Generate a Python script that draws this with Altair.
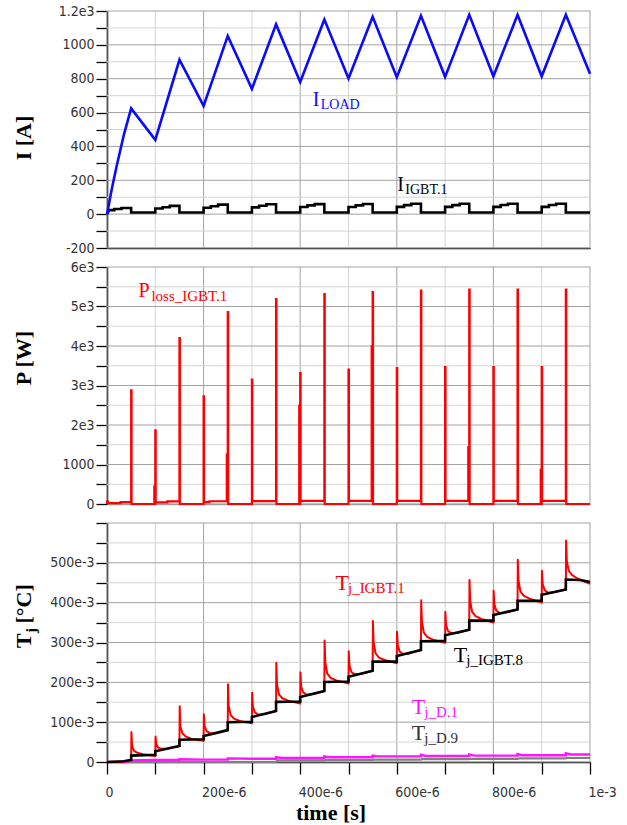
import altair as alt
import pandas as pd

# ---------------- data (time in microseconds) ----------------
load_t = [0, 10, 20, 35, 50, 100, 150, 200, 250, 300, 350, 400, 450, 500, 550, 600,
          650, 700, 750, 800, 850, 900, 950, 1000]
load_i = [0, 150, 285, 470, 625, 439, 912, 639, 1053, 740, 1121, 781, 1150, 801, 1166, 809,
          1172, 811, 1178, 814, 1178, 814, 1178, 830]

igbt_pts = [(0, 0), (5, 24), (15, 24), (15, 30), (30, 30), (30, 36), (50, 36), (50, 10),
            (100, 10), (100, 33), (115, 33), (115, 41), (130, 41), (130, 49), (150, 49), (150, 10),
            (200, 10), (200, 38), (215, 38), (215, 47), (230, 47), (230, 56), (250, 56), (250, 10),
            (300, 10), (300, 40), (315, 40), (315, 50), (330, 50), (330, 58), (350, 58), (350, 10),
            (400, 10), (400, 42), (415, 42), (415, 52), (430, 52), (430, 59), (450, 59), (450, 10),
            (500, 10), (500, 42), (515, 42), (515, 52), (530, 52), (530, 60), (550, 60), (550, 10),
            (600, 10), (600, 43), (615, 43), (615, 53), (630, 53), (630, 61), (650, 61), (650, 10),
            (700, 10), (700, 43), (715, 43), (715, 53), (730, 53), (730, 61), (750, 61), (750, 10),
            (800, 10), (800, 43), (815, 43), (815, 54), (830, 54), (830, 61), (850, 61), (850, 10),
            (900, 10), (900, 43), (915, 43), (915, 54), (930, 54), (930, 61), (950, 61), (950, 10),
            (1000, 10)]

ploss_pts = [(0, 0), (0, 60), (2, 60), (2, 20), (28, 20), (28, 45), (50, 45), (50, 2878), (50.8, 2878), (50.8, 0),
             (98, 0), (98, 447), (99, 447), (99, 0), (100, 0), (100, 1865), (100.8, 1865), (100.8, 40),
             (125, 40), (125, 65), (150, 65), (150, 4203), (150.8, 4203), (150.8, 0),
             (200, 0), (200, 2726), (200.8, 2726), (200.8, 45), (212, 45), (212, 70),
             (248, 70), (248, 1249), (249, 1249), (249, 70), (250, 70), (250, 4861), (250.8, 4861), (250.8, 0),
             (300, 0), (300, 3148), (300.8, 3148), (300.8, 75), (350, 75), (350, 5190), (350.8, 5190), (350.8, 0),
             (398, 0), (398, 2489), (399, 2489), (399, 0), (400, 0), (400, 3316), (400.8, 3316), (400.8, 78),
             (450, 78), (450, 5316), (450.8, 5316), (450.8, 0),
             (500, 0), (500, 3401), (500.8, 3401), (500.8, 80), (548, 80), (548, 3992), (549, 3992), (549, 80),
             (550, 80), (550, 5367), (550.8, 5367), (550.8, 0),
             (600, 0), (600, 3443), (600.8, 3443), (600.8, 80), (650, 80), (650, 5400), (650.8, 5400), (650.8, 0),
             (700, 0), (700, 3468), (700.8, 3468), (700.8, 80), (748, 80), (748, 1435), (749, 1435), (749, 80),
             (750, 80), (750, 5426), (750.8, 5426), (750.8, 0),
             (800, 0), (800, 3468), (800.8, 3468), (800.8, 80), (850, 80), (850, 5426), (850.8, 5426), (850.8, 0),
             (898, 0), (898, 869), (899, 869), (899, 0), (900, 0), (900, 3468), (900.8, 3468), (900.8, 80),
             (950, 80), (950, 5426), (950.8, 5426), (950.8, 0), (1000, 0)]

tj_igbt1_pts = [
    (0, 0), (25, 0), (40, 0.003), (50, 0.005),
    (50.5, 0.075), (52, 0.040), (56, 0.028), (63, 0.023), (75, 0.019), (100, 0.015),
    (100.5, 0.064), (102, 0.045), (106, 0.036), (113, 0.033), (125, 0.034), (150, 0.040),
    (150.5, 0.140), (152, 0.090), (156, 0.072), (163, 0.064), (175, 0.058), (200, 0.053),
    (200.5, 0.120), (202, 0.090), (206, 0.078), (213, 0.072), (225, 0.072), (250, 0.080),
    (250.5, 0.195), (252, 0.140), (256, 0.118), (263, 0.109), (275, 0.103), (300, 0.097),
    (300.5, 0.174), (302, 0.140), (306, 0.125), (313, 0.119), (325, 0.120), (350, 0.128),
    (350.5, 0.249), (352, 0.195), (356, 0.170), (363, 0.160), (375, 0.154), (400, 0.147),
    (400.5, 0.225), (402, 0.190), (406, 0.175), (413, 0.169), (425, 0.170), (450, 0.178),
    (450.5, 0.305), (452, 0.250), (456, 0.222), (463, 0.211), (475, 0.205), (500, 0.197),
    (500.5, 0.278), (502, 0.242), (506, 0.226), (513, 0.220), (525, 0.221), (550, 0.229),
    (550.5, 0.354), (552, 0.300), (556, 0.273), (563, 0.262), (575, 0.256), (600, 0.248),
    (600.5, 0.327), (602, 0.293), (606, 0.277), (613, 0.271), (625, 0.272), (650, 0.281),
    (650.5, 0.406), (652, 0.352), (656, 0.325), (663, 0.314), (675, 0.307), (700, 0.299),
    (700.5, 0.377), (702, 0.344), (706, 0.329), (713, 0.323), (725, 0.324), (750, 0.332),
    (750.5, 0.457), (752, 0.404), (756, 0.377), (763, 0.366), (775, 0.359), (800, 0.350),
    (800.5, 0.430), (802, 0.396), (806, 0.380), (813, 0.374), (825, 0.375), (850, 0.383),
    (850.5, 0.508), (852, 0.455), (856, 0.428), (863, 0.417), (875, 0.410), (900, 0.400),
    (900.5, 0.480), (902, 0.447), (906, 0.432), (913, 0.425), (925, 0.426), (950, 0.433),
    (950.5, 0.556), (952, 0.505), (956, 0.480), (963, 0.469), (975, 0.460), (1000, 0.447)]

tj_igbt8_pts = [(0, 0), (35, 0.002), (50, 0.005), (50, 0.016), (100, 0.018), (100, 0.027), (150, 0.040),
                (150, 0.056), (200, 0.057), (200, 0.065), (250, 0.080), (250, 0.100), (300, 0.101),
                (300, 0.113), (350, 0.128), (350, 0.151), (400, 0.152), (400, 0.163), (450, 0.178),
                (450, 0.201), (500, 0.202), (500, 0.214), (550, 0.229), (550, 0.252), (600, 0.252),
                (600, 0.266), (650, 0.281), (650, 0.303), (700, 0.304), (700, 0.318), (750, 0.332),
                (750, 0.355), (800, 0.355), (800, 0.369), (850, 0.383), (850, 0.405), (900, 0.405),
                (900, 0.420), (950, 0.433), (950, 0.458), (980, 0.457), (1000, 0.452)]

tj_d1_pts = [(0, 0), (40, 0), (50, 0.004), (100, 0.005), (150, 0.005), (150, 0.007), (200, 0.006),
             (250, 0.006), (250, 0.009), (300, 0.008), (350, 0.008), (350, 0.012), (360, 0.010),
             (400, 0.010), (450, 0.010), (450, 0.014), (460, 0.012), (500, 0.012), (550, 0.012),
             (550, 0.016), (560, 0.014), (600, 0.014), (650, 0.014), (650, 0.018), (660, 0.015),
             (700, 0.015), (750, 0.015), (750, 0.019), (760, 0.016), (800, 0.016), (850, 0.016),
             (850, 0.020), (860, 0.017), (900, 0.017), (950, 0.017), (950, 0.022), (960, 0.019),
             (1000, 0.019)]

tj_d9_pts = [(0, 0), (350, 0), (352, 0.004), (450, 0.004), (452, 0.005), (550, 0.005), (552, 0.006),
             (650, 0.006), (652, 0.007), (750, 0.007), (752, 0.008), (850, 0.008), (852, 0.009),
             (950, 0.009), (952, 0.010), (1000, 0.010)]

# tick positions and labels (labelled ticks are the major ones)
x_ticks = [0, 100, 200, 300, 400, 500, 600, 700, 800, 900, 1000]
x_labels = {0: "0", 200: "200e-6", 400: "400e-6", 600: "600e-6", 800: "800e-6", 1000: "1e-3"}
i_ticks = [-200, -100, 0, 100, 200, 300, 400, 500, 600, 700, 800, 900, 1000, 1100, 1200]
i_labels = {-200: "-200", 0: "0", 200: "200", 400: "400", 600: "600", 800: "800", 1000: "1000", 1200: "1.2e3"}
p_ticks = [0, 500, 1000, 1500, 2000, 2500, 3000, 3500, 4000, 4500, 5000, 5500, 6000]
p_labels = {0: "0", 1000: "1000", 2000: "2e3", 3000: "3e3", 4000: "4e3", 5000: "5e3", 6000: "6e3"}
t_ticks = [0, 0.05, 0.1, 0.15, 0.2, 0.25, 0.3, 0.35, 0.4, 0.45, 0.5, 0.55, 0.6]
t_labels = {0: "0", 0.1: "100e-3", 0.2: "200e-3", 0.3: "300e-3", 0.4: "400e-3", 0.5: "500e-3", 0.6: ""}

# annotations: (main, subscript, t, value, color)
ann_top = [("I", "LOAD", 426, 636, "#0a0aff"), ("I", "IGBT.1", 601, 135, "#000000")]
ann_mid = [("P", "loss_IGBT.1", 65, 5248, "#ff0000")]
ann_bot = [("T", "j_IGBT.1", 473, 0.4316, "#ff0000"), ("T", "j_IGBT.8", 718, 0.2514, "#000000"),
           ("T", "j_D.1", 631, 0.1199, "#ff14ff"), ("T", "j_D.9", 631, 0.0545, "#333333")]

# ---------------- styling ----------------
LF = "Liberation Sans Narrow, Arial Narrow, DejaVu Sans Condensed, Liberation Sans, sans-serif"
SERIF = "Liberation Serif, Times New Roman, serif"
MAJ = "#a2a2a2"
MIN = "#d4d4d4"
W = 483


def label_expr(labels, tol):
    e = "''"
    for v, s in labels.items():
        e = f"abs(datum.value - ({v})) < {tol} ? '{s}' : ({e})"
    return e


def x_axis(show_labels, domain_color):
    kw = dict(values=x_ticks, title=None, grid=False,
              domain=True, domainColor=domain_color, domainWidth=1.5)
    if show_labels:
        kw.update(labelExpr=label_expr(x_labels, 0.001), ticks=True, tickColor="black", tickSize=12,
                  tickWidth=1.3, labelPadding=11, labelFont=LF, labelFontSize=14, labelColor="#333333",
                  labelAlign="left", labelOffset=-2, labelFlush=False, labelOverlap=False)
    else:
        kw.update(labels=False, ticks=False)
    return alt.Axis(**kw)


def y_axis(ticks, labels, tol):
    return alt.Axis(values=ticks, labelExpr=label_expr(labels, tol), title=None, grid=False,
                    domainColor="black", domainWidth=1.5,
                    tickColor="black", tickSize=11, tickWidth=1.3, labelPadding=2, labelFont=LF,
                    labelFontSize=14, labelColor="#333333", labelOverlap=False, labelFlush=False)


def pts_df(pts):
    return pd.DataFrame({"t": [p[0] for p in pts], "v": [p[1] for p in pts], "i": list(range(len(pts)))})


def grid_layers(sx, sy, xa, ya, yticks, ylabels):
    gx = pd.DataFrame({"t": x_ticks, "c": [MAJ if t in x_labels else MIN for t in x_ticks]})
    gy = pd.DataFrame({"v": yticks, "c": [MAJ if v in ylabels else MIN for v in yticks]})
    vx = alt.Chart(gx).mark_rule(strokeWidth=1).encode(
        x=alt.X("t:Q", scale=sx, axis=xa), color=alt.Color("c:N", scale=None))
    hy = alt.Chart(gy).mark_rule(strokeWidth=1).encode(
        y=alt.Y("v:Q", scale=sy, axis=ya), color=alt.Color("c:N", scale=None))
    return [vx, hy]


def line(df, color, width, sx, sy, xaxis, yaxis, join="miter"):
    return alt.Chart(df).mark_line(color=color, strokeWidth=width, strokeJoin=join).encode(
        x=alt.X("t:Q", scale=sx, axis=xaxis),
        y=alt.Y("v:Q", scale=sy, axis=yaxis),
        order=alt.Order("i:Q"))


def annotations(ann, sx, sy, xaxis, yaxis, main_size, sub_size, sub_dx, sub_dy):
    df = pd.DataFrame({"m": [a[0] for a in ann], "s": [a[1] for a in ann], "t": [a[2] for a in ann],
                       "v": [a[3] for a in ann], "c": [a[4] for a in ann]})
    base = alt.Chart(df)
    main = base.mark_text(align="left", baseline="alphabetic", font=SERIF, fontSize=main_size).encode(
        x=alt.X("t:Q", scale=sx, axis=xaxis), y=alt.Y("v:Q", scale=sy, axis=yaxis),
        text="m:N", color=alt.Color("c:N", scale=None))
    sub = base.mark_text(align="left", baseline="alphabetic", font=SERIF, fontSize=sub_size,
                         dx=sub_dx, dy=sub_dy).encode(
        x=alt.X("t:Q", scale=sx, axis=xaxis), y=alt.Y("v:Q", scale=sy, axis=yaxis),
        text="s:N", color=alt.Color("c:N", scale=None))
    return [main, sub]


def pix_text(txt, x, y, size, angle=0, align="center", bold=True):
    return alt.Chart(pd.DataFrame({"txt": [txt]})).mark_text(
        align=align, baseline="alphabetic", font=SERIF, fontSize=size,
        fontWeight="bold" if bold else "normal", angle=angle, color="black").encode(
        x=alt.value(x), y=alt.value(y), text="txt:N")


sx = alt.Scale(domain=[0, 1000], nice=False, zero=False)

# ---------------- top panel ----------------
sy_i = alt.Scale(domain=[-200, 1200], nice=False, zero=False)
xa_top = x_axis(False, "black")
ya_top = y_axis(i_ticks, i_labels, 0.5)
top_layers = grid_layers(sx, sy_i, xa_top, ya_top, i_ticks, i_labels) + [
    line(pts_df(igbt_pts), "black", 2.6, sx, sy_i, xa_top, ya_top),
    line(pd.DataFrame({"t": load_t, "v": load_i, "i": list(range(len(load_t)))}), "#0a0aff", 2.6,
         sx, sy_i, xa_top, ya_top),
] + annotations(ann_top, sx, sy_i, xa_top, ya_top, 20, 14, 8, 3) + [
    pix_text("I [A]", -76, 127, 22, angle=270),
    alt.Chart(pd.DataFrame({"a": [0]})).mark_rule(opacity=0).encode(
        x=alt.value(-107), y=alt.value(-11), y2=alt.value(0)),
]
top = alt.layer(*top_layers).properties(width=W, height=237)

# ---------------- middle panel ----------------
sy_p = alt.Scale(domain=[0, 6000], nice=False, zero=False)
xa_mid = x_axis(False, "#9c9c9c")
ya_mid = y_axis(p_ticks, p_labels, 0.5)
mid_layers = grid_layers(sx, sy_p, xa_mid, ya_mid, p_ticks, p_labels) + [
    line(pts_df(ploss_pts), "#ff0000", 2.2, sx, sy_p, xa_mid, ya_mid),
] + annotations(ann_mid, sx, sy_p, xa_mid, ya_mid, 20, 15, 13, 4) + [
    pix_text("P [W]", -76, 91, 22, angle=270),
]
mid = alt.layer(*mid_layers).properties(width=W, height=237)

# ---------------- bottom panel ----------------
sy_t = alt.Scale(domain=[0, 0.6], nice=False, zero=False)
xa_bot = x_axis(True, "black")
ya_bot = y_axis(t_ticks, t_labels, 1e-6)
bot_layers = grid_layers(sx, sy_t, xa_bot, ya_bot, t_ticks, t_labels) + [
    line(pts_df(tj_d9_pts), "#808080", 2.2, sx, sy_t, xa_bot, ya_bot),
    line(pts_df(tj_d1_pts), "#ff14ff", 2.4, sx, sy_t, xa_bot, ya_bot),
    line(pts_df(tj_igbt1_pts), "#ff0000", 2.0, sx, sy_t, xa_bot, ya_bot, join="round"),
    line(pts_df(tj_igbt8_pts), "black", 2.6, sx, sy_t, xa_bot, ya_bot),
] + annotations(ann_bot, sx, sy_t, xa_bot, ya_bot, 22, 15, 12.5, 3) + [
    pix_text("T", -76, 125, 22, angle=270, align="left"),
    pix_text("j", -71, 110, 15, angle=270, align="left"),
    pix_text("[°C]", -76, 100.5, 22, angle=270, align="left"),
    pix_text("time [s]", 224, 297, 22),
]
bot = alt.layer(*bot_layers).properties(width=W, height=239)

chart = alt.vconcat(top, mid, bot, spacing=19, bounds="flush").properties(
    padding={"left": 0, "top": 0, "right": 0, "bottom": 0},
    background="white",
).configure_view(stroke=None)

chart.save("out.html", embed_options={"renderer": "svg", "actions": False})
